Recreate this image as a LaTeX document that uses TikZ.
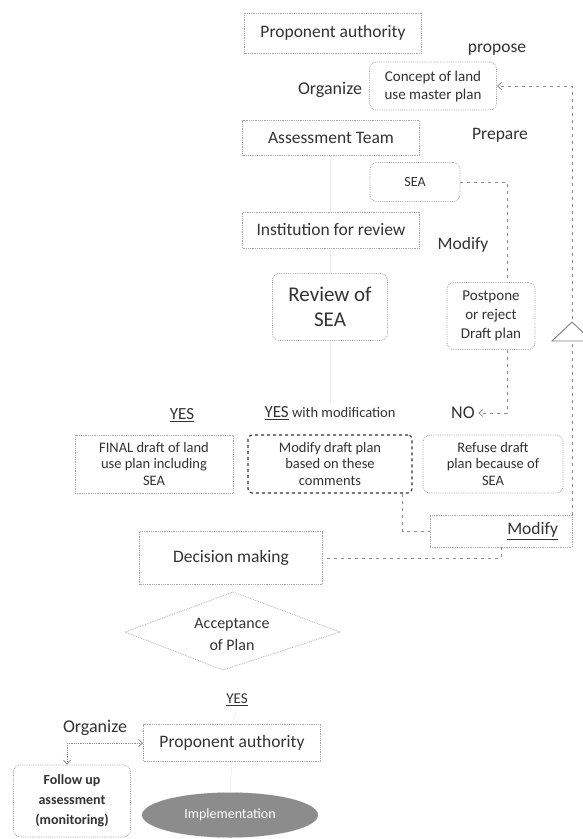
\documentclass[tikz,border=0pt]{standalone}
\usepackage{fontspec}
\setmainfont{Carlito}
\usetikzlibrary{arrows.meta,shapes.geometric,calc}

\begin{document}
\begin{tikzpicture}[x=1pt,y=1pt,yscale=-1,
  every node/.style={text=black!80},
  big/.style={font=\fontsize{17.5}{21}\selectfont},
  mid/.style={font=\fontsize{15}{18}\selectfont},
  small/.style={font=\fontsize{14.5}{16.5}\selectfont},
  dotbox/.style={draw=black!35, densely dotted, line width=0.8pt, align=center, inner sep=0pt},
  rdotbox/.style={dotbox, rounded corners=7pt},
  dashline/.style={draw=black!45, dash pattern=on 3pt off 4pt, line width=0.8pt},
  faint/.style={draw=black!8, line width=0.6pt},
  arr/.style={-{Straight Barb[length=4pt,width=7pt]}},
]
%set diagram to the size of the scan
\path[use as bounding box, fill=white] (0,0) rectangle (582,839);

% Upper chain
\node[dotbox, big, minimum width=177pt, minimum height=40pt] (pa1) at (333,33) {Proponent authority};
\node[rdotbox, mid, minimum width=127pt, minimum height=48pt] (concept) at (433,86) {Concept of land\\use master plan};
\node[dotbox, big, minimum width=177pt, minimum height=35pt] (assess) at (331,138) {Assessment Team};
\node[rdotbox, font=\fontsize{14}{16}\selectfont, minimum width=90pt, minimum height=39pt] (sea) at (415,182) {SEA};
\node[dotbox, big, minimum width=177pt, minimum height=36pt] (inst) at (331,230) {Institution for review};
\node[rdotbox, font=\fontsize{21}{25}\selectfont, minimum width=115pt, minimum height=67pt] (review) at (330,307) {Review of\\SEA};
\node[rdotbox, font=\fontsize{15}{19}\selectfont, minimum width=88pt, minimum height=67pt] (pp) at (491,316) {Postpone\\or reject\\Draft plan};

% Text Node
\node[big] (propose) at (497,50) {propose};
\node[font=\fontsize{18}{21}\selectfont] (org1) at (330,90) {Organize};
\node[big] (prepare) at (500,135) {Prepare};
\node[big] (modtxt) at (463,245) {Modify};

% Outcomes
\node[font=\fontsize{17}{20}\selectfont] (yes1) at (182,415) {\underline{YES}};
\node (yesmod) at (330,413) {\fontsize{17}{20}\selectfont\underline{YES}\fontsize{14.5}{17}\selectfont{} with modification};
\node[font=\fontsize{18}{21}\selectfont] (no) at (463,413) {NO};

\node[dotbox, small, minimum width=158pt, minimum height=58pt] (final) at (154,464) {FINAL draft of land\\use plan including\\SEA};
\node[dotbox, small, draw=black!80, dashed, line width=1.1pt, rounded corners=4pt, minimum width=164pt, minimum height=58pt] (mdp) at (330,464) {Modify draft plan\\based on these\\comments};
\node[rdotbox, small, minimum width=140pt, minimum height=58pt] (refuse) at (493,464) {Refuse draft\\plan because of\\SEA};
\node[dotbox, big, minimum width=142pt, minimum height=32pt, text width=114pt, align=right] (mod) at (501,531) {\underline{Modify}};

% Decision
\node[dotbox, big, minimum width=183pt, minimum height=53pt] (dec) at (231,558) {Decision making};
\node[font=\fontsize{16}{22}\selectfont, align=center] (acc) at (232,634) {Acceptance\\of Plan};
\draw[draw=black!30, densely dotted, line width=0.8pt] (125,632) -- (233,592) -- (340,632) -- (223,670) -- cycle;
\node[font=\fontsize{15}{18}\selectfont] (yes2) at (237,700) {\underline{YES}};

% Bottom
\node[font=\fontsize{18}{21}\selectfont] (org2) at (95,728) {Organize};
\node[dotbox, big, minimum width=177pt, minimum height=37pt] (pa2) at (232,743) {Proponent authority};
\node[rdotbox, font=\bfseries\fontsize{14}{20}\selectfont, minimum width=117pt, minimum height=72pt] (fu) at (72,801) {Follow up\\assessment\\(monitoring)};
\node[ellipse, fill=black!45, draw=black!30, densely dotted, minimum width=176pt, minimum height=45pt, text=white, font=\fontsize{14}{16}\selectfont] (impl) at (230,815) {Implementation};

% Connectors
\draw[dashline, arr] (mod.north east) -- (mod.north east |- concept.east) -- (concept.east);
\coordinate (tri) at (572,322);
\draw[draw=black!50, fill=white, line width=0.9pt] ($(tri)+(-20,19)$) -- (tri) -- ($(tri)+(20,19)$) -- cycle;
\draw[dashline] (sea.east) -| ($(pp.north)+(16,0)$);
\draw[dashline, arr] ($(pp.south)+(16,0)$) |- (no.east);
\draw[dashline] ($(mdp.south east)+(-10,0)$) |- (mod.west);
\draw[dashline] (mod.south) |- (dec.east);
\coordinate (orgc) at (67,743);
\draw[draw=black!45, densely dotted, line width=0.8pt, arr] (orgc) -- (pa2.west);
\draw[draw=black!45, densely dotted, line width=0.8pt, arr] (orgc) -- (fu.north -| orgc);

% faint links
\draw[faint] (assess.south -| review) -- (inst.north -| review);
\draw[faint] (inst.south -| review) -- (review.north);
\draw[faint] (review.south) -- (yesmod.north);
\draw[faint] (dec.south -| acc) -- (233,592);
\draw[faint] (yes2.south) -- (pa2.north);
\draw[faint] (pa2.south) -- (impl.north);

\end{tikzpicture}
\end{document}
